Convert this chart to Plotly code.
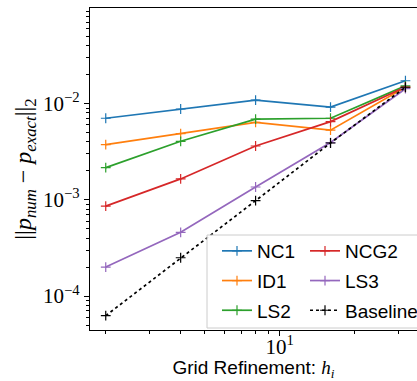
import plotly.graph_objects as go

# ---- data ----
x_vals = [2, 4, 8, 16, 32]
nc1 = [7.05e-3, 8.8e-3, 1.09e-2, 9.2e-3, 1.73e-2]
id1 = [3.75e-3, 4.88e-3, 6.4e-3, 5.3e-3, 1.48e-2]
ls2 = [2.16e-3, 4.06e-3, 6.9e-3, 7.05e-3, 1.53e-2]
ncg2 = [8.6e-4, 1.65e-3, 3.63e-3, 6.5e-3, 1.49e-2]
ls3 = [2.0e-4, 4.6e-4, 1.36e-3, 3.94e-3, 1.43e-2]
baseline = [6.25e-5, 2.5e-4, 9.8e-4, 3.9e-3, 1.48e-2]

series_names = ["NC1", "ID1", "LS2", "NCG2", "LS3", "Baseline"]
series_vals = [nc1, id1, ls2, ncg2, ls3, baseline]
series_colors = ["#1f77b4", "#ff7f0e", "#2ca02c", "#d62728", "#9467bd", "black"]
series_dash = ["solid", "solid", "solid", "solid", "solid", "dot"]
series_legend = ["legend", "legend", "legend", "legend2", "legend2", "legend2"]

y_major = [1e-4, 1e-3, 1e-2]
y_major_text = ["10<sup>−4</sup>", "10<sup>−3</sup>", "10<sup>−2</sup>"]
x_major = [10]
x_major_text = ["10<sup>1</sup>"]

y_minor = [m * 10.0 ** e for e in range(-5, -1) for m in range(2, 10)]
x_minor = [2, 3, 4, 5, 6, 7, 8, 9, 20, 30]

W, H = 417, 381
ml, mr, mt, mb = 90, 0, 8, 51
pw, ph = W - ml - mr, H - mt - mb
px_per_dec_x = 248.9
px_per_dec_y = 96.2
x_lo = 0.2378
y_lo = -4.353

fig = go.Figure()
for name, vals, col, dash, lg in zip(series_names, series_vals, series_colors,
                                      series_dash, series_legend):
    fig.add_trace(go.Scatter(
        x=x_vals, y=vals, name=name, mode="lines+markers",
        line=dict(color=col, width=1.7, dash=dash),
        marker=dict(symbol="cross-thin", size=7, color=col,
                    line=dict(color=col, width=1.2)),
        legend=lg, legendgroup=name,
    ))

serif = "Liberation Serif, DejaVu Serif, serif"
sans = "Liberation Sans, Arial, sans-serif"


def xpaper(px):
    return (px - ml) / pw


def ypaper(py):
    return (H - mb - py) / ph


legend_common = dict(
    font=dict(family=sans, size=19, color="black"),
    bgcolor="rgba(0,0,0,0)", borderwidth=0,
    xanchor="left", yanchor="top", tracegroupgap=2,
)

fig.update_layout(
    width=W, height=H,
    margin=dict(l=ml, r=mr, t=mt, b=mb, autoexpand=False),
    paper_bgcolor="white", plot_bgcolor="white",
    showlegend=True,
    legend=dict(x=xpaper(217), y=ypaper(232), **legend_common),
    legend2=dict(x=xpaper(305), y=ypaper(232), **legend_common),
    shapes=[dict(type="rect", xref="paper", yref="paper",
                 x0=xpaper(207), x1=xpaper(430), y0=ypaper(328), y1=ypaper(235),
                 line=dict(color="#cccccc", width=1),
                 fillcolor="rgba(255,255,255,0.8)", layer="above")],
    xaxis=dict(
        type="log", range=[x_lo, x_lo + pw / px_per_dec_x], automargin=False,
        showgrid=False, zeroline=False,
        showline=True, linecolor="black", linewidth=1.2, mirror=True,
        ticks="outside", ticklen=5, tickwidth=1, tickcolor="black",
        tickvals=x_major, ticktext=x_major_text, ticklabelstandoff=-7,
        tickfont=dict(family=serif, size=21, color="black"),
        minor=dict(tickvals=x_minor, ticks="outside", ticklen=3,
                   tickwidth=0.8, tickcolor="black", showgrid=False),
        title=dict(text="Grid Refinement: <span style='font-family:Liberation Serif'><i>h</i><sub><i>i</i></sub></span>",
                   font=dict(family=sans, size=19, color="black"), standoff=12),
    ),
    yaxis=dict(
        type="log", range=[y_lo, y_lo + ph / px_per_dec_y], automargin=False,
        showgrid=False, zeroline=False,
        showline=True, linecolor="black", linewidth=1.2, mirror=False,
        ticks="outside", ticklen=5, tickwidth=1, tickcolor="black",
        tickvals=y_major, ticktext=y_major_text,
        tickfont=dict(family=serif, size=21, color="black"),
        minor=dict(tickvals=y_minor, ticks="outside", ticklen=3,
                   tickwidth=0.8, tickcolor="black", showgrid=False),
        title=dict(text="||<i>p</i><sub><i>num</i></sub> − <i>p</i><sub><i>exact</i></sub>||<sub>2</sub>",
                   font=dict(family=serif, size=24, color="black"), standoff=4),
    ),
)

fig.write_html("out.html")
